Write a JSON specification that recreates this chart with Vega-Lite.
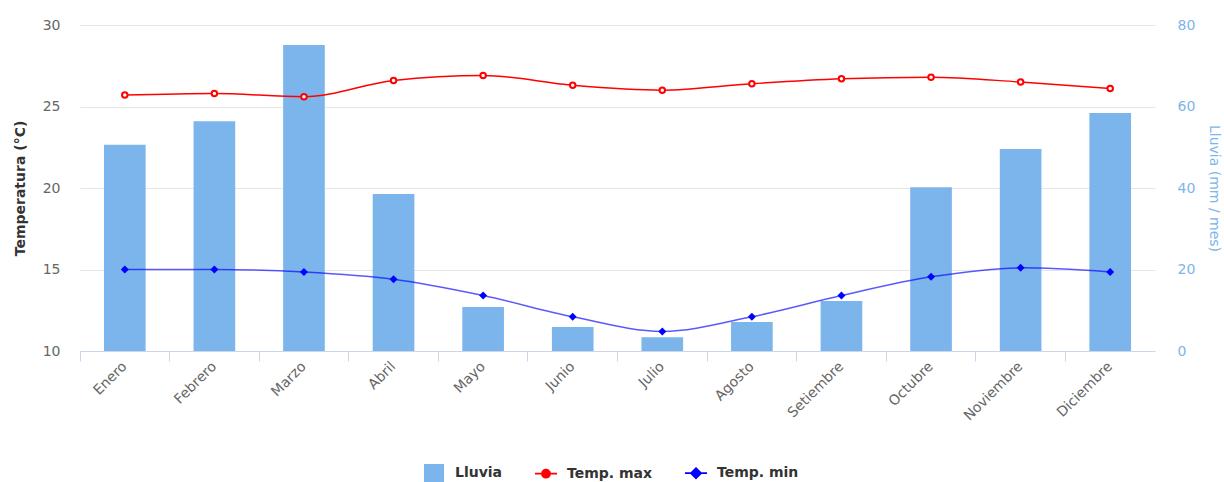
{
  "$schema": "https://vega.github.io/schema/vega-lite/v6.json",
  "autosize": {"type": "none"},
  "padding": {"left": 80, "top": 25, "right": 69, "bottom": 131},
  "width": 1075,
  "height": 326,
  "background": "white",
  "config": {
    "view": {"stroke": null},
    "font": "DejaVu Sans",
    "axis": {"labelFont": "DejaVu Sans", "titleFont": "DejaVu Sans"},
    "legend": {"labelFont": "DejaVu Sans"}
  },
  "data": {
    "values": [
      {"mes": "Enero", "lluvia": 50.6, "tmax": 25.7, "tmin": 15.0},
      {"mes": "Febrero", "lluvia": 56.4, "tmax": 25.8, "tmin": 15.0},
      {"mes": "Marzo", "lluvia": 75.1, "tmax": 25.6, "tmin": 14.85},
      {"mes": "Abril", "lluvia": 38.5, "tmax": 26.6, "tmin": 14.4},
      {"mes": "Mayo", "lluvia": 10.8, "tmax": 26.9, "tmin": 13.4},
      {"mes": "Junio", "lluvia": 5.9, "tmax": 26.3, "tmin": 12.1},
      {"mes": "Julio", "lluvia": 3.4, "tmax": 26.0, "tmin": 11.2},
      {"mes": "Agosto", "lluvia": 7.1, "tmax": 26.4, "tmin": 12.1},
      {"mes": "Setiembre", "lluvia": 12.3, "tmax": 26.7, "tmin": 13.4},
      {"mes": "Octubre", "lluvia": 40.2, "tmax": 26.8, "tmin": 14.55},
      {"mes": "Noviembre", "lluvia": 49.6, "tmax": 26.5, "tmin": 15.1},
      {"mes": "Diciembre", "lluvia": 58.4, "tmax": 26.1, "tmin": 14.85}
    ]
  },
  "encoding": {
    "x": {
      "field": "mes",
      "type": "nominal",
      "sort": null,
      "scale": {"paddingInner": 0, "paddingOuter": 0},
      "axis": {
        "title": null,
        "bandPosition": 0,
        "labelAngle": -45,
        "labelAlign": "right",
        "labelBaseline": "middle",
        "labelPadding": 3,
        "labelFontSize": 14,
        "labelColor": "#666666",
        "tickSize": 10,
        "tickColor": "#ccd6eb",
        "domainColor": "#ccd6eb",
        "grid": false
      }
    }
  },
  "layer": [
    {
      "mark": {"type": "bar", "width": {"band": 0.465}},
      "encoding": {
        "y": {
          "field": "lluvia",
          "type": "quantitative",
          "scale": {"domain": [0, 80]},
          "axis": {
            "orient": "right",
            "title": "Lluvia (mm / mes)",
            "titleColor": "#7cb5ec",
            "titleFontSize": 14,
            "titleFontWeight": "normal",
            "titlePadding": 12,
            "labelColor": "#7cb5ec",
            "labelFontSize": 14,
            "labelPadding": 22,
            "labelOverlap": false,
            "values": [0, 20, 40, 60, 80],
            "ticks": false,
            "domain": false,
            "grid": false
          }
        },
        "color": {
          "datum": "Lluvia",
          "scale": {"domain": ["Lluvia", "Temp. max", "Temp. min"], "range": ["#7cb5ec", "red", "blue"]},
          "legend": {
            "orient": "none",
            "direction": "horizontal",
            "legendX": 347,
            "legendY": 441,
            "title": null,
            "labelFontSize": 14,
            "labelFontWeight": "bold",
            "labelColor": "#333333",
            "symbolSize": 400,
            "columnPadding": 28,
            "labelOffset": 14,
            "encode": {
              "symbols": {
                "update": {
                  "shape": {"signal": "datum.value === 'Lluvia' ? 'M-1,-0.9H1V0.9H-1Z' : datum.value === 'Temp. max' ? 'M-1.1,0L-0.4,0M0.4,0L1.1,0M-0.4,0A0.4,0.4,0,1,1,0.4,0A0.4,0.4,0,1,1,-0.4,0Z' : 'M-1.1,0L-0.5,0M0.5,0L1.1,0M0,-0.5L0.5,0L0,0.5L-0.5,0Z'"},
                  "fill": {"signal": "datum.value === 'Lluvia' ? '#7cb5ec' : datum.value === 'Temp. max' ? '#ffffff' : '#0000ff'"},
                  "stroke": {"signal": "datum.value === 'Lluvia' ? '#7cb5ec' : datum.value === 'Temp. max' ? '#ff0000' : '#0000ff'"},
                  "strokeWidth": {"signal": "datum.value === 'Lluvia' ? 0 : 1.8"},
                  "opacity": {"value": 1},
                  "fillOpacity": {"value": 1}
                }
              }
            }
          }
        }
      }
    },
    {
      "layer": [
        {
          "mark": {"type": "line", "interpolate": "monotone", "strokeWidth": 1.5},
          "encoding": {
            "y": {"field": "tmax", "type": "quantitative"},
            "color": {"datum": "Temp. max"}
          }
        },
        {
          "mark": {"type": "point", "shape": "circle", "filled": true, "fill": "white", "stroke": "red", "strokeWidth": 2, "size": 30, "opacity": 1},
          "encoding": {
            "y": {"field": "tmax", "type": "quantitative"}
          }
        },
        {
          "mark": {"type": "line", "interpolate": "monotone", "strokeWidth": 1.5, "opacity": 0.65},
          "encoding": {
            "y": {"field": "tmin", "type": "quantitative"},
            "color": {"datum": "Temp. min"}
          }
        },
        {
          "mark": {"type": "point", "shape": "diamond", "filled": true, "fill": "blue", "size": 64, "opacity": 1},
          "encoding": {
            "y": {"field": "tmin", "type": "quantitative"}
          }
        }
      ],
      "encoding": {
        "y": {
          "type": "quantitative",
          "scale": {"domain": [10, 30]},
          "axis": {
            "orient": "left",
            "title": "Temperatura (°C)",
            "titleColor": "#333333",
            "titleFontSize": 14,
            "titleFontWeight": "bold",
            "titlePadding": 15,
            "labelColor": "#666666",
            "labelFontSize": 14,
            "labelPadding": 20,
            "values": [10, 15, 20, 25, 30],
            "ticks": false,
            "domain": false,
            "grid": true,
            "gridColor": "#e6e6e6"
          }
        }
      }
    }
  ],
  "resolve": {"scale": {"y": "independent"}, "axis": {"y": "independent"}}
}
